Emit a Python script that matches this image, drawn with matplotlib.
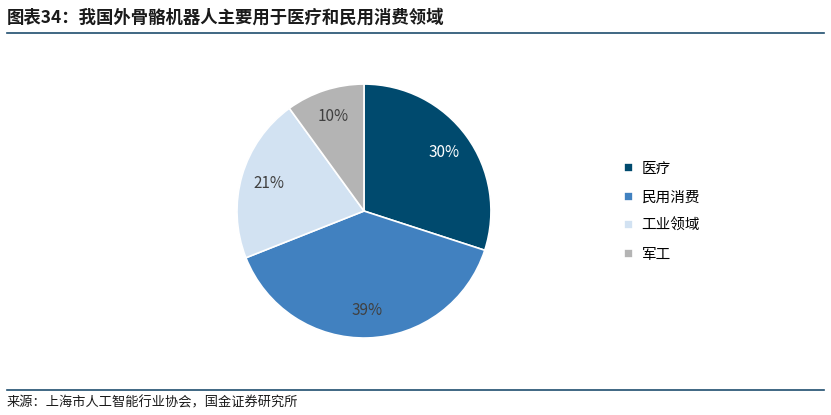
import matplotlib
matplotlib.use("Agg")
import matplotlib.pyplot as plt
from matplotlib.lines import Line2D

plt.rcParams['font.family'] = ['Noto Sans CJK SC', 'DejaVu Sans']

labels = ["医疗", "民用消费", "工业领域", "军工"]
shares = [30, 39, 21, 10]
colors = ["#004a6e", "#4181c0", "#d2e2f2", "#b4b4b4"]
pct_colors = ["white", "#404040", "#404040", "#404040"]

fig = plt.figure(figsize=(8.31, 4.15), dpi=100)

# 标题
fig.text(0.008, 0.958, "图表34：我国外骨骼机器人主要用于医疗和民用消费领域",
         fontsize=12.5, fontweight="bold", style="italic", color="#1a1a1a",
         va="center", ha="left")
fig.add_artist(Line2D([0.008, 0.992], [0.921, 0.921], color="#1f4e6e", lw=1.2))

# 饼图
ax = fig.add_axes([0.247, 0.109, 0.382, 0.765])
wedges, texts, autotexts = ax.pie(
    shares, colors=colors, startangle=90, counterclock=False,
    autopct="%d%%", pctdistance=0.78,
    wedgeprops=dict(edgecolor="white", linewidth=1.2),
    textprops=dict(fontsize=11),
)
for t, c in zip(autotexts, pct_colors):
    t.set_color(c)
ax.set_aspect("equal")

# 图例
fig.legend(wedges, labels, loc="center left", bbox_to_anchor=(0.735, 0.49),
           frameon=False, fontsize=10.5, handlelength=0.6, handleheight=0.6,
           labelspacing=1.0, handletextpad=0.6)

# 来源
fig.add_artist(Line2D([0.008, 0.992], [0.06, 0.06], color="#1f4e6e", lw=1.2))
fig.text(0.008, 0.03, "来源：上海市人工智能行业协会，国金证券研究所",
         fontsize=9.5, color="#1a1a1a", va="center", ha="left")

fig.savefig("out.png", dpi=100)
